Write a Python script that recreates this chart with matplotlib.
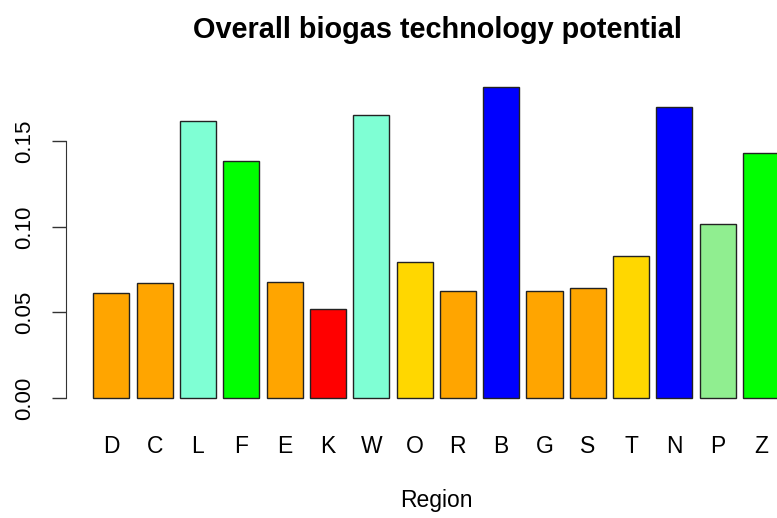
import matplotlib.pyplot as plt

plt.rcParams['font.family'] = ['Liberation Sans', 'DejaVu Sans']

# data
regions = ['D', 'C', 'L', 'F', 'E', 'K', 'W', 'O', 'R', 'B', 'G', 'S', 'T', 'N', 'P', 'Z']
potential = [0.0614, 0.0673, 0.1622, 0.1383, 0.0678, 0.0521, 0.1652, 0.0797, 0.0624,
             0.1821, 0.0624, 0.0643, 0.0828, 0.1702, 0.1018, 0.1434]
colours = ['orange', 'orange', 'aquamarine', 'lime', 'orange', 'red', 'aquamarine', 'gold',
           'orange', 'blue', 'orange', 'orange', 'gold', 'blue', 'lightgreen', 'lime']

fig = plt.figure(figsize=(7.77, 5.18), dpi=100)
# plot region runs past the right edge, like the cropped original
ax = fig.add_axes([0.0848, 0.2077, 1.038 - 0.0848, 0.8566 - 0.2077])

# R barplot layout: width 1, space 0.2
xpos = [0.2 + 1.2 * i + 0.5 for i in range(len(regions))]
ax.bar(xpos, potential, width=1.0, color=colours, edgecolor='#222222', linewidth=1.0)

ax.set_xlim(-0.56, 19.96)
ax.set_ylim(-0.00728, 0.18928)

for s in ['top', 'right', 'bottom']:
    ax.spines[s].set_visible(False)
ax.spines['left'].set_bounds(0, 0.15)
ax.spines['left'].set_color('#333333')

ax.set_yticks([0, 0.05, 0.10, 0.15])
ax.set_yticklabels(['0.00', '0.05', '0.10', '0.15'], rotation=90, va='center')
ax.tick_params(axis='y', length=10, width=1, color='#333333', pad=12, labelsize=16)

ax.set_xticks(xpos)
ax.set_xticklabels(regions)
ax.tick_params(axis='x', length=0, pad=18, labelsize=16.5)

fig.text(0.5612, 1 - 501 / 518, 'Region', ha='center', va='center', fontsize=16.5)
fig.text(0.5625, 1 - 30 / 518, 'Overall biogas technology potential', ha='center', va='center',
         fontsize=20.8, fontweight='bold')

plt.savefig('out.png', dpi=100)
